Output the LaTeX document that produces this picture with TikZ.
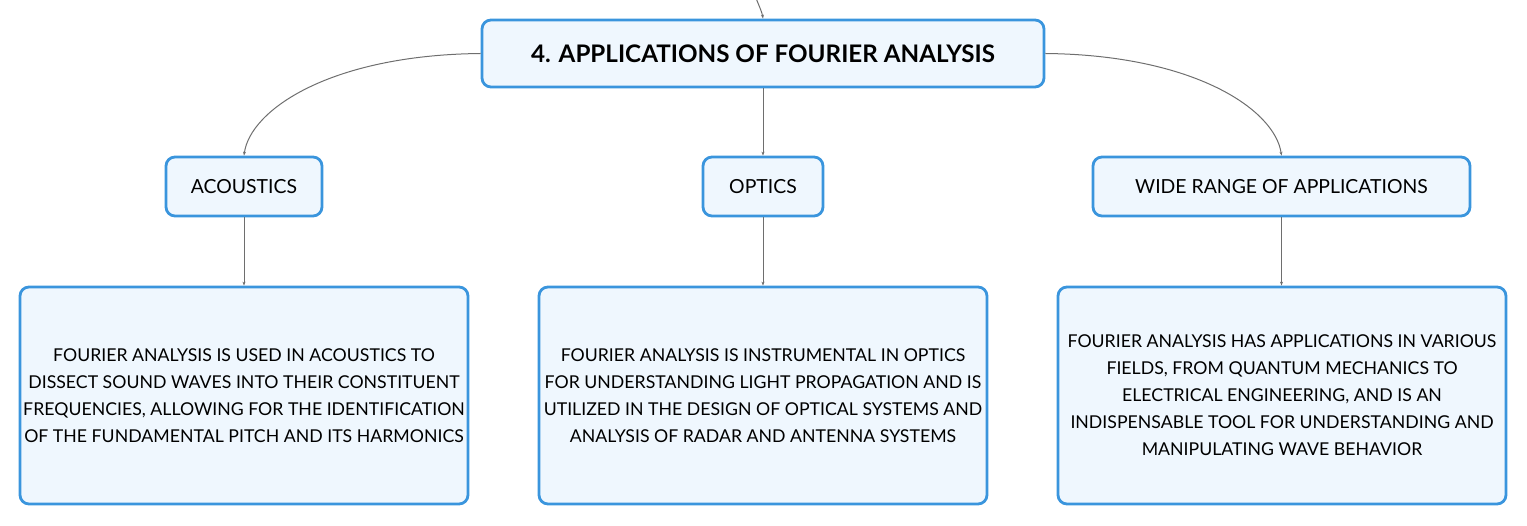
\documentclass[tikz,border=0pt]{standalone}
\usepackage{fontspec}
\setmainfont{Lato}
\usetikzlibrary{arrows.meta}
\definecolor{boxborder}{RGB}{58,149,221}
\definecolor{boxfill}{RGB}{239,247,254}
\definecolor{linkgray}{RGB}{110,110,110}
\begin{document}
\begin{tikzpicture}[x=1pt,y=-1pt,
  box/.style={draw=boxborder,fill=boxfill,line width=2.8pt,rounded corners=9pt,inner sep=0pt,align=center},
  link/.style={draw=linkgray,line width=1pt,-{Stealth[length=4pt,width=3pt]}},
  bodytext/.style={font=\fontsize{17.7}{27}\selectfont},
  labeltext/.style={font=\fontsize{19.4}{22}\selectfont}]
\useasboundingbox (0,0) rectangle (1527,526);
\node[box,minimum width=562pt,minimum height=67pt,font=\fontsize{24.2}{28}\selectfont\bfseries] (root) at (763,53.5) {4. APPLICATIONS OF FOURIER ANALYSIS};
\node[box,labeltext,minimum width=156pt,minimum height=59pt] (ac) at (244,186.5) {ACOUSTICS};
\node[box,labeltext,minimum width=120pt,minimum height=59pt] (op) at (763,186.5) {OPTICS};
\node[box,labeltext,minimum width=377pt,minimum height=59pt] (wr) at (1281.5,186.5) {WIDE RANGE OF APPLICATIONS};
\node[box,bodytext,minimum width=448pt,minimum height=217pt] (acd) at (244,395.5) {FOURIER ANALYSIS IS USED IN ACOUSTICS TO\\DISSECT SOUND WAVES INTO THEIR CONSTITUENT\\FREQUENCIES, ALLOWING FOR THE IDENTIFICATION\\OF THE FUNDAMENTAL PITCH AND ITS HARMONICS};
\node[box,bodytext,minimum width=448pt,minimum height=217pt] (opd) at (763,395.5) {FOURIER ANALYSIS IS INSTRUMENTAL IN OPTICS\\FOR UNDERSTANDING LIGHT PROPAGATION AND IS\\UTILIZED IN THE DESIGN OF OPTICAL SYSTEMS AND\\ANALYSIS OF RADAR AND ANTENNA SYSTEMS};
\node[box,bodytext,minimum width=448pt,minimum height=217pt] (wrd) at (1282,395.5) {FOURIER ANALYSIS HAS APPLICATIONS IN VARIOUS\\FIELDS, FROM QUANTUM MECHANICS TO\\ELECTRICAL ENGINEERING, AND IS AN\\INDISPENSABLE TOOL FOR UNDERSTANDING AND\\MANIPULATING WAVE BEHAVIOR};
\coordinate (parent) at (756,-2);
\draw[link] (parent) .. controls (759,6) and (762,12) .. (root.north);
\draw[link] (root.west) .. controls (330,55) and (250,110) .. (ac.north);
\draw[link] (root.east) .. controls (1195,55) and (1275,110) .. (wr.north);
\draw[link] (root.south) -- (op.north);
\draw[link] (ac.south) -- (acd.north);
\draw[link] (op.south) -- (opd.north);
\draw[link] (wr.south) -- (wrd.north -| wr.south);
\end{tikzpicture}
\end{document}
